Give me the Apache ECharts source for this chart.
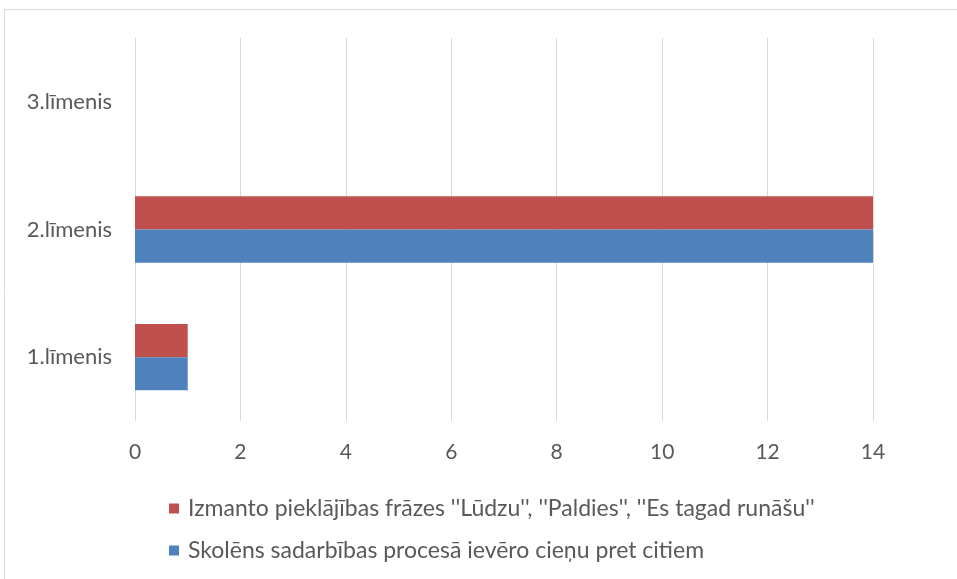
<!DOCTYPE html>
<html>
<head>
<meta charset="utf-8">
<script src="https://cdn.jsdelivr.net/npm/echarts@6/dist/echarts.min.js"></script>
<style>
  html, body { margin: 0; padding: 0; background: #fff; }
  #chart { width: 957px; height: 579px; }
</style>
</head>
<body>
<div id="chart"></div>
<script>
const categories = ['1.līmenis', '2.līmenis', '3.līmenis'];
const xTicks = [0, 2, 4, 6, 8, 10, 12, 14];
const blueName = 'Skolēns sadarbības procesā ievēro cieņu pret citiem';
const redName = "Izmanto pieklājības frāzes ''Lūdzu'', ''Paldies'', ''Es tagad runāšu''";
const blueValues = [1, 14, null];
const redValues = [1, 14, null];

const font = 'Lato, "Noto Sans", sans-serif';
const chart = echarts.init(document.getElementById('chart'));

chart.setOption({
  animation: false,
  textStyle: { fontFamily: font },
  graphic: [{
    type: 'rect',
    shape: { x: 4.5, y: 9.5, width: 1000, height: 700 },
    style: { fill: 'none', stroke: '#d9d9d9', lineWidth: 1 },
    silent: true
  }],
  grid: { left: 135, right: 84, top: 38, bottom: 158 },
  legend: {
    orient: 'vertical',
    left: 164,
    top: 492,
    itemWidth: 10,
    itemHeight: 10,
    itemGap: 19,
    data: [redName, blueName],
    textStyle: { fontSize: 23, lineHeight: 23, color: '#595959', fontFamily: font, padding: [0, 0, 0, 4] },
    icon: 'rect'
  },
  xAxis: {
    type: 'value',
    min: xTicks[0],
    max: xTicks[xTicks.length - 1],
    interval: 2,
    axisLine: { show: false },
    axisTick: { show: false },
    axisLabel: { color: '#595959', fontSize: 21, margin: 21, fontFamily: font },
    splitLine: { lineStyle: { color: '#d9d9d9', width: 1 } }
  },
  yAxis: {
    type: 'category',
    data: categories,
    axisLine: { show: false },
    axisTick: { show: false },
    axisLabel: { color: '#595959', fontSize: 22, margin: 23, fontFamily: font }
  },
  series: [
    {
      name: redName,
      type: 'bar',
      data: redValues,
      barGap: '0%',
      barCategoryGap: '48%',
      itemStyle: { color: '#c0504d' }
    },
    {
      name: blueName,
      type: 'bar',
      data: blueValues,
      barGap: '0%',
      barCategoryGap: '48%',
      itemStyle: { color: '#4f81bd' }
    }
  ]
});
</script>
</body>
</html>
